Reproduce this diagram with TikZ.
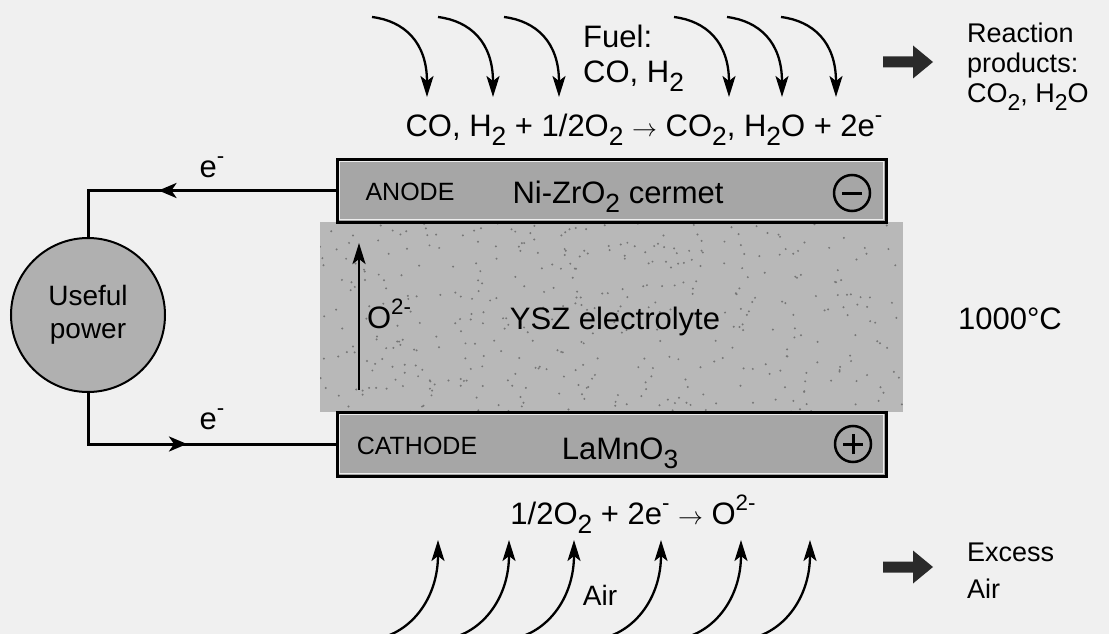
\documentclass[tikz,border=0pt]{standalone}
\usepackage{fontspec}
\setmainfont{Liberation Sans}
\usetikzlibrary{arrows.meta,decorations.markings}
\newcommand\chsub[1]{\raisebox{-0.3em}{\scalebox{0.85}{#1}}}
\newcommand\chsup[1]{\raisebox{0.42em}{\scalebox{0.72}{#1}}}
\definecolor{bgc}{HTML}{F0F0F0}
\definecolor{layerc}{HTML}{A6A6A6}
\definecolor{elyc}{HTML}{B8B8B8}
\definecolor{circc}{HTML}{B0B0B0}
\definecolor{specc}{HTML}{767676}
\definecolor{fatc}{HTML}{2A2A2A}
\begin{document}
\begin{tikzpicture}[x=1pt,y=-1pt,
  lab/.style={inner sep=0pt, font=\fontsize{31}{35}\selectfont},
  smalllab/.style={inner sep=0pt, font=\fontsize{25}{30}\selectfont},
  sidelab/.style={inner sep=0pt, font=\fontsize{27}{30}\selectfont, anchor=west, align=left},
  layer/.style={draw=black, line width=3pt, fill=layerc, minimum width=549pt, inner sep=0pt},
  inline/.style={draw=white!80!layerc, line width=1.3pt},
  sign/.style={circle, draw=black, line width=2.5pt, minimum size=36pt, inner sep=0pt},
  signbar/.style={line width=3pt},
  wire/.style={line width=3pt},
  flow/.style={line width=2.3pt, -{Stealth[length=21pt,width=13pt,inset=5pt]}},
]
\fill[bgc] (0,0) rectangle (1109,634);
\useasboundingbox (0,0) rectangle (1109,634);

% electrolyte
\node[fill=elyc, minimum width=583pt, minimum height=190pt, inner sep=0pt] (ely) at (611.5,317) {};
\begin{scope}
  \clip (320,222) rectangle (903,412);
  \pgfmathsetseed{7}
  \foreach \i in {1,...,420}{
    \pgfmathsetmacro\sx{320+583*rnd}
    \pgfmathsetmacro\sy{222+190*rnd}
    \fill[specc] (\sx,\sy) circle (1.1);
  }
\end{scope}
\node[lab, anchor=base] (yszlab) at (615,329) {YSZ electrolyte};
\node[lab, anchor=base] (olab) at (389,328) {O\chsup{2-}};
\coordinate (ob) at (359,390);
\coordinate (ot) at (359,243);
\draw[flow, line width=2.5pt] (ob) -- (ot);

% anode
\node[layer, minimum height=63pt] (anode) at (611.5,190.5) {};
\draw[inline] ([shift={(4,4)}]anode.north west) rectangle ([shift={(-4,-4)}]anode.south east);
\node[smalllab, anchor=base] (anodelab) at (410,200) {ANODE};
\node[lab, anchor=base] (anodemat) at (618,203) {Ni-ZrO\chsub{2} cermet};
\node[sign] (minus) at (852,193) {};
\draw[signbar] ([xshift=-10pt]minus.center) -- ([xshift=10pt]minus.center);

% cathode
\node[layer, minimum height=64pt] (cathode) at (611.5,444) {};
\draw[inline] ([shift={(4,4)}]cathode.north west) rectangle ([shift={(-4,-4)}]cathode.south east);
\node[smalllab, anchor=base] (cathodelab) at (417,454) {CATHODE};
\node[lab, anchor=base] (cathodemat) at (620,459) {LaMnO\chsub{3}};
\node[sign] (plus) at (853,444) {};
\draw[signbar] ([xshift=-10pt]plus.center) -- ([xshift=10pt]plus.center);
\draw[signbar] ([yshift=-10pt]plus.center) -- ([yshift=10pt]plus.center);

% useful power
\node[circle, draw=black, line width=2pt, fill=circc, minimum size=154pt, inner sep=0pt,
      align=center, font=\fontsize{28}{33}\selectfont] (power) at (88,315) {Useful\\power};

% wires
\coordinate (tc) at (88,190.5);
\coordinate (bc) at (88,444);
\draw[wire, postaction={decorate}, decoration={markings, mark=at position 177pt with {\arrow{Stealth[length=18pt,width=15pt,inset=5pt]}}}]
  (anode.west) -- (tc) -- (power.north);
\draw[wire, postaction={decorate}, decoration={markings, mark=at position 150pt with {\arrow{Stealth[length=18pt,width=15pt,inset=5pt]}}}]
  (power.south) -- (bc) -- (cathode.west);
\node[lab, anchor=base] (etop) at (212,177) {e\chsup{-}};
\node[lab, anchor=base] (ebot) at (212,429) {e\chsup{-}};

% fuel
\node[lab, anchor=west, align=left] (fuel) at (583,58) {Fuel:\\CO, H\chsub{2}};
\node[lab, anchor=base] (eqtop) at (644,136) {CO, H\chsub{2} + 1/2O\chsub{2} $\rightarrow$ CO\chsub{2}, H\chsub{2}O + 2e\chsup{-}};
\foreach \xs [count=\i] in {372,438,504,674,727,781}{
  \coordinate (fs\i) at (\xs,17);
  \coordinate (fe\i) at (\xs+55,97);
  \draw[flow] (fs\i) .. controls (\xs+32,21) and (\xs+55,42) .. (fe\i);
}

% air
\node[lab, anchor=base] (eqbot) at (633,524) {1/2O\chsub{2} + 2e\chsup{-} $\rightarrow$ O\chsup{2-}};
\node[lab, anchor=base, font=\fontsize{28}{33}\selectfont] (airlab) at (600,605) {Air};
\foreach \xs [count=\i] in {384,455,520,607,687,756}{
  \coordinate (as\i) at (\xs,637);
  \coordinate (ae\i) at (\xs+54,540);
  \draw[flow] (as\i) .. controls (\xs+30,628) and (\xs+54,596) .. (ae\i);
}

% right side
\coordinate (ra) at (883,62);
\fill[fatc] (ra) ++(0,-5.5) -- ++(30,0) -- ++(0,-11) -- ++(20,16.5) -- ++(-20,16.5) -- ++(0,-11) -- ++(-30,0) -- cycle;
\node[sidelab] (prod) at (967,67) {Reaction\\products:\\CO\chsub{2}, H\chsub{2}O};
\coordinate (ea) at (883,567);
\fill[fatc] (ea) ++(0,-5.5) -- ++(30,0) -- ++(0,-11) -- ++(20,16.5) -- ++(-20,16.5) -- ++(0,-11) -- ++(-30,0) -- cycle;
\node[sidelab, font=\fontsize{27}{37}\selectfont] (excess) at (967,571) {Excess\\Air};
\node[lab, anchor=base] (temp) at (1010,329) {1000°C};
\end{tikzpicture}
\end{document}
